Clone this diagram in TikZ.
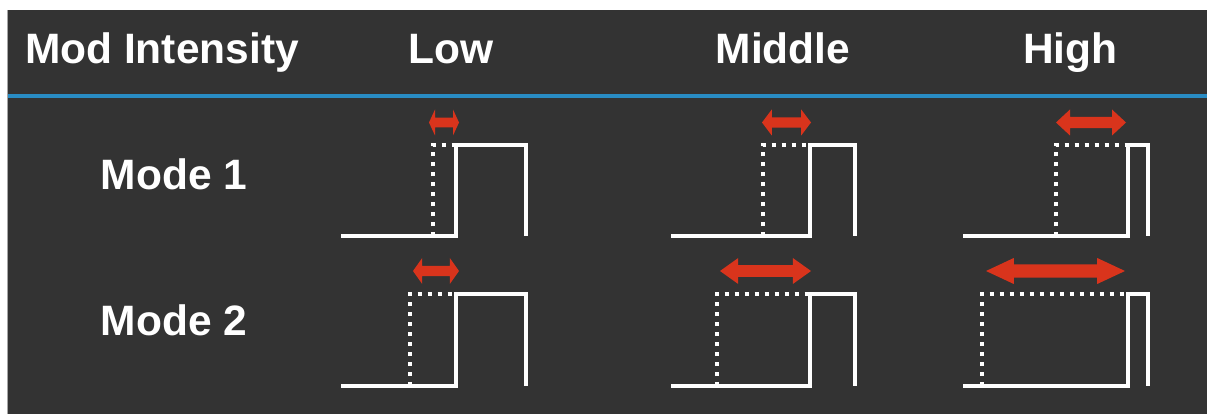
\documentclass[tikz,border=0pt]{standalone}
\usepackage{fontspec}
\setmainfont{Liberation Sans}
\usetikzlibrary{positioning}

\definecolor{panel}{RGB}{51,51,51}
\definecolor{rulebar}{RGB}{41,140,196}
\definecolor{shiftred}{RGB}{217,52,28}

\tikzset{
  label/.style={text=white,font=\fontsize{42.5}{50}\selectfont\bfseries,anchor=base,inner sep=0pt},
  pulse/.style={white,line width=4pt,line join=miter},
  ghost/.style={white,line width=4pt,dash pattern=on 4pt off 6pt},
}

% double headed shift arrow: y, left x, right x
\newcommand{\shiftarrow}[3]{%
  \pgfmathsetmacro{\hlen}{0.2*(#3-#2)}%
  \pgfmathsetmacro{\shaft}{4.5+0.015*(#3-#2)}%
  \fill[shiftred] (#2,#1) -- (#2+\hlen,#1-13) -- (#2+\hlen,#1-\shaft) -- (#3-\hlen,#1-\shaft)
    -- (#3-\hlen,#1-13) -- (#3,#1) -- (#3-\hlen,#1+13) -- (#3-\hlen,#1+\shaft)
    -- (#2+\hlen,#1+\shaft) -- (#2+\hlen,#1+13) -- cycle;}

\begin{document}
\begin{tikzpicture}[line cap=butt,x=1pt,y=-1pt]
\useasboundingbox (0,0) rectangle (1208,414);
\fill[panel] (8,10) rectangle (1207,414);
\draw[gray!70,line width=1pt] (7.5,10) -- (7.5,414);
\draw[rulebar,line width=4pt] (8,96.5) -- (1207,96.5);
% header row
\node[label] (title) at (162,63.5) {Mod Intensity};
\node[label] (low) at (451,63.5) {Low};
\node[label] (middle) at (783,63.5) {Middle};
\node[label] (high) at (1070.5,63.5) {High};
% row labels
\node[label] (mode1) at (174,189.5) {Mode 1};
\node[label] (mode2) at (174,335) {Mode 2};
% pulses: start/dotted edge/solid edge/end/base/top
\foreach \xa/\xd/\xr/\xe/\yb/\yt in {341/433/456/526/236.5/145, 671/763/810/855/236.5/145, 963/1056/1128/1148/236.5/145,
    341/410/456/526/386/293.5, 671/717/810/855/386/293.5, 963/982/1128/1148/386/293.5}{
  \draw[ghost] (\xd,\yb) -- (\xd,\yt) -- (\xr,\yt);
  \draw[pulse] (\xa,\yb) -- (\xr,\yb) -- (\xr,\yt) -- (\xe,\yt) -- (\xe,\yb);
}
% shift arrows
\shiftarrow{122.5}{429}{459}
\shiftarrow{122.5}{762}{811}
\shiftarrow{122.5}{1056}{1126}
\shiftarrow{271}{413}{459}
\shiftarrow{271}{720}{811}
\shiftarrow{271}{986}{1125}
\end{tikzpicture}
\end{document}
